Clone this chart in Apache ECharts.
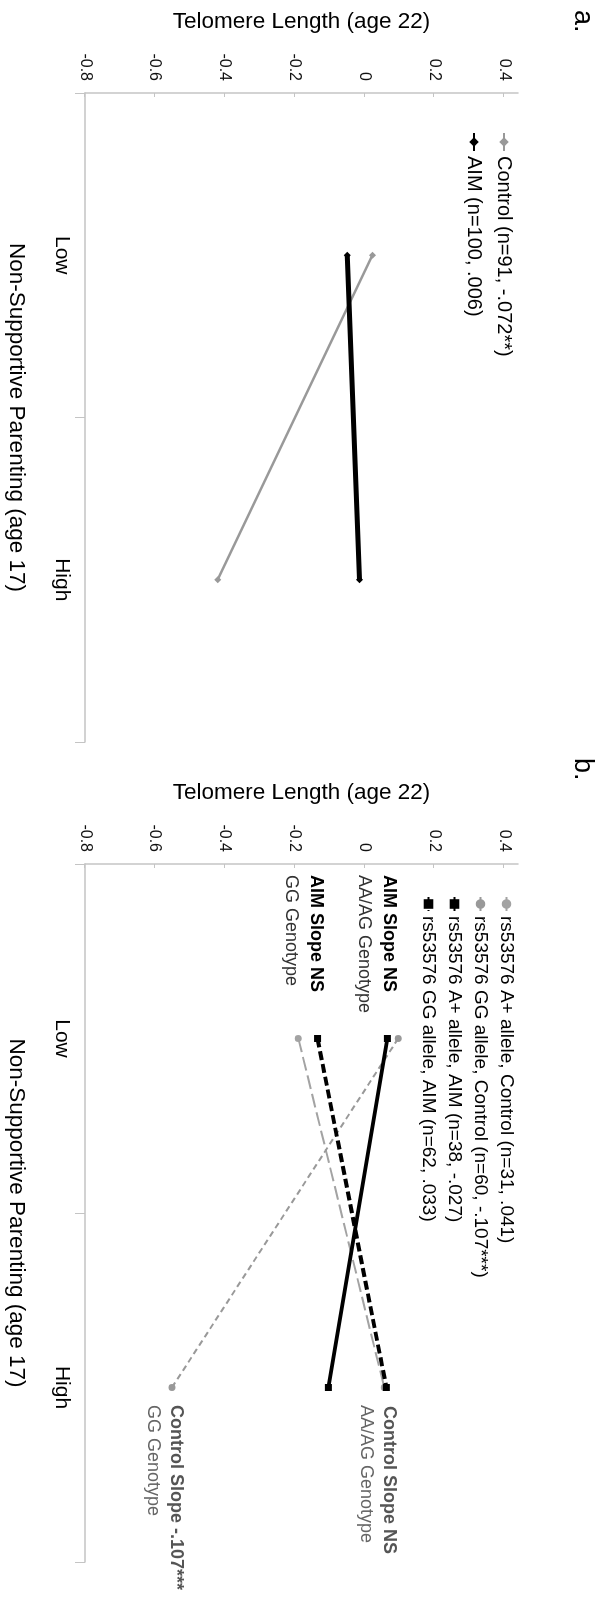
<!DOCTYPE html>
<html><head><meta charset="utf-8">
<script src="https://cdn.jsdelivr.net/npm/echarts@6/dist/echarts.min.js"></script>
<style>
html,body{margin:0;padding:0;width:600px;height:1602px;overflow:hidden;background:#fff}
#wrap{position:absolute;left:0;top:0;width:1602px;height:600px;transform-origin:0 0;transform:translate(600px,0) rotate(90deg);}
#chart{width:1602px;height:600px}
</style></head><body>
<div id="wrap"><div id="chart"></div></div>
<script>
// ---- data ----
const categories = ['Low', 'High'];
const valueTicks = [-0.8, -0.6, -0.4, -0.2, 0, 0.2, 0.4];
const seriesNamesA = ['Control (n=91, -.072**)', 'AIM (n=100, .006)'];
const controlA = [0.023, -0.42];
const aimA = [-0.049, -0.014];
const seriesNamesB = [
  'rs53576 A+ allele, Control (n=31, .041)',
  'rs53576 GG allele, Control (n=60, -.107***)',
  'rs53576 A+ allele, AIM (n=38, -.027)',
  'rs53576 GG allele, AIM (n=62, .033)'
];
const apControlB = [-0.189, 0.057];
const ggControlB = [0.097, -0.551];
const apAimB = [0.066, -0.103];
const ggAimB = [-0.134, 0.063];

// ---- styles ----
const font = '"Liberation Sans", Arial, Helvetica, sans-serif';
const axisGray = '#c4c4c4';
function valueAxis(gi) {
  return {
    type: 'value', gridIndex: gi, min: valueTicks[0], max: 0.44, interval: 0.2,
    name: 'Telomere Length (age 22)', nameLocation: 'middle', nameGap: 60,
    nameTextStyle: { fontFamily: font, fontSize: 22.5, color: '#000' },
    axisLine: { show: true, lineStyle: { color: axisGray, width: 1.5 } },
    axisTick: { show: true, inside: true, length: 4, lineStyle: { color: axisGray } },
    splitLine: { show: false },
    axisLabel: {
      fontFamily: font, fontSize: 16, color: '#111', margin: 12, showMaxLabel: false,
      formatter: v => valueTicks.some(t => Math.abs(t - v) < 1e-6) ? String(Math.round(v * 10) / 10) : ''
    }
  };
}
function catAxis(gi) {
  return {
    type: 'category', gridIndex: gi, data: categories, boundaryGap: true, position: 'bottom',
    name: 'Non-Supportive Parenting (age 17)', nameLocation: 'middle', nameGap: 57,
    nameTextStyle: { fontFamily: font, fontSize: 22.5, color: '#000' },
    axisLine: { onZero: false, lineStyle: { color: axisGray, width: 1.5 } },
    axisTick: { show: true, length: 10, lineStyle: { color: axisGray } },
    axisLabel: { fontFamily: font, fontSize: 21, color: '#000', margin: 13, interval: 0 }
  };
}
function lineSeries(name, data, gi, color, width, symbol, type) {
  return {
    type: 'line', name, data, xAxisIndex: gi, yAxisIndex: gi,
    symbol, symbolSize: 7, showSymbol: true,
    lineStyle: { color, width, type: type || 'solid' },
    itemStyle: { color },
    color
  };
}
function txt(text, x, y, size, color, bold) {
  return {
    type: 'text', x, y, silent: true,
    style: { text, fontFamily: font, fontSize: size, fontWeight: bold ? 'bold' : 'normal', fill: color, verticalAlign: 'middle' }
  };
}

const chart = echarts.init(document.getElementById('chart'), null, { renderer: 'canvas' });
chart.setOption({
  animation: false,
  backgroundColor: '#fff',
  grid: [
    { left: 93, top: 82, width: 649, height: 434 },
    { left: 864, top: 82, width: 698, height: 434 }
  ],
  xAxis: [catAxis(0), catAxis(1)],
  yAxis: [valueAxis(0), valueAxis(1)],
  legend: [
    { data: seriesNamesA, orient: 'vertical', left: 127, top: 81, itemWidth: 18, itemHeight: 12, itemGap: 10,
      textStyle: { fontFamily: font, fontSize: 20, color: '#000' } },
    { data: seriesNamesB, orient: 'vertical', left: 891, top: 79, itemWidth: 14, itemHeight: 12, itemGap: 7,
      textStyle: { fontFamily: font, fontSize: 19, color: '#000' } }
  ],
  series: [
    lineSeries(seriesNamesA[0], controlA, 0, '#999999', 2.5, 'diamond'),
    lineSeries(seriesNamesA[1], aimA, 0, '#000000', 5, 'diamond'),
    lineSeries(seriesNamesB[0], apControlB, 1, '#a3a3a3', 2, 'circle', [14, 5]),
    lineSeries(seriesNamesB[1], ggControlB, 1, '#999999', 2, 'circle', [6, 4]),
    lineSeries(seriesNamesB[2], apAimB, 1, '#000000', 4, 'rect'),
    lineSeries(seriesNamesB[3], ggAimB, 1, '#000000', 4, 'rect', [9, 4])
  ],
  graphic: [
    txt('a.', 10, 18, 27, '#000'),
    txt('b.', 758, 18, 27, '#000'),
    txt('AIM Slope NS', 875, 211, 18, '#000', true),
    txt('AA/AG Genotype', 875, 236, 18, '#333'),
    txt('AIM Slope NS', 875, 284, 18, '#000', true),
    txt('GG Genotype', 875, 309, 18, '#333'),
    txt('Control Slope NS', 1406, 211, 18, '#555', true),
    txt('AA/AG Genotype', 1405, 234, 18, '#666'),
    txt('Control Slope -.107***', 1405, 424, 18, '#555', true),
    txt('GG Genotype', 1405, 447, 18, '#666')
  ]
});
</script>
</body></html>
